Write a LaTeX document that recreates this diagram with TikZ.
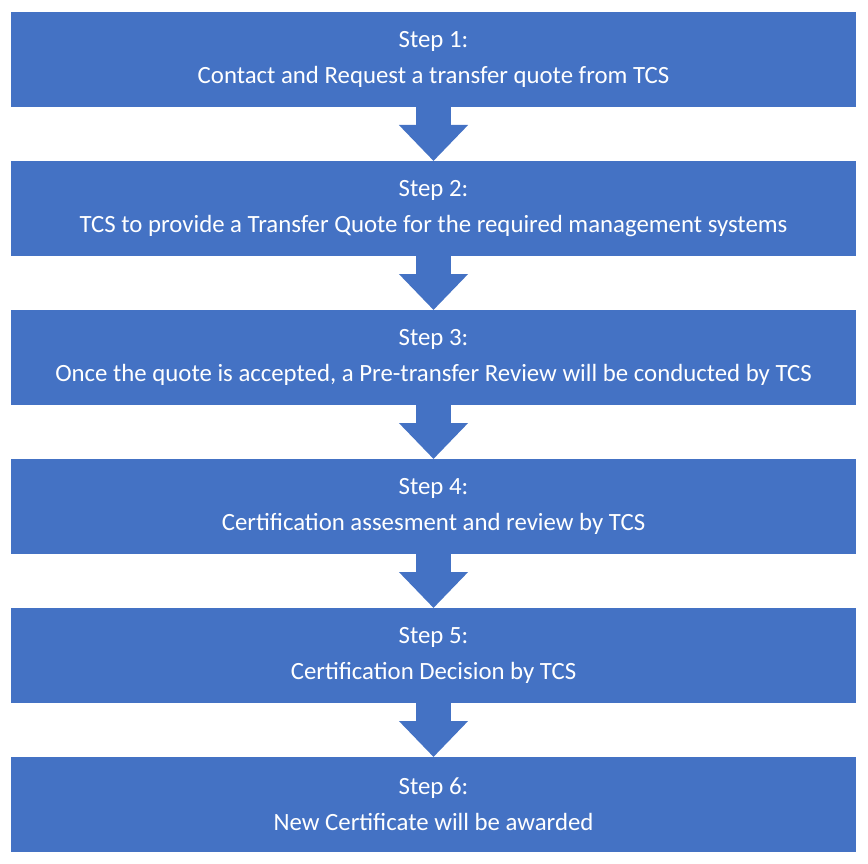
\documentclass[tikz,border=0pt]{standalone}
\usepackage{fontspec}
\setmainfont{Carlito}
\usetikzlibrary{arrows.meta,positioning}
\definecolor{stepblue}{HTML}{4472C4}

\begin{document}
\begin{tikzpicture}[node distance=54pt,stepbox/.style={fill=stepblue,text=white,align=center,minimum width=845pt,minimum height=95pt,inner sep=0pt,outer sep=0pt,font=\fontsize{24.8}{36}\selectfont},arr/.style={draw=stepblue,line width=35pt,-{Triangle[width=67pt,length=36pt]}}]
\useasboundingbox (0,0) rectangle (868pt,-864pt);
\node[stepbox] (s1) at (433.5pt,-59.5pt) {Step 1:\\Contact and Request a transfer quote from TCS};
\node[stepbox,below=of s1] (s2) {Step 2:\\TCS to provide a Transfer Quote for the required management systems};
\node[stepbox,below=of s2] (s3) {Step 3:\\Once the quote is accepted, a Pre-transfer Review will be conducted by TCS};
\node[stepbox,below=of s3] (s4) {Step 4:\\Certification assesment and review by TCS};
\node[stepbox,below=of s4] (s5) {Step 5:\\Certification Decision by TCS};
\node[stepbox,below=of s5] (s6) {Step 6:\\New Certificate will be awarded};
\draw[arr] (s1)--(s2);\draw[arr] (s2)--(s3);\draw[arr] (s3)--(s4);\draw[arr] (s4)--(s5);\draw[arr] (s5)--(s6);
\end{tikzpicture}
\end{document}
